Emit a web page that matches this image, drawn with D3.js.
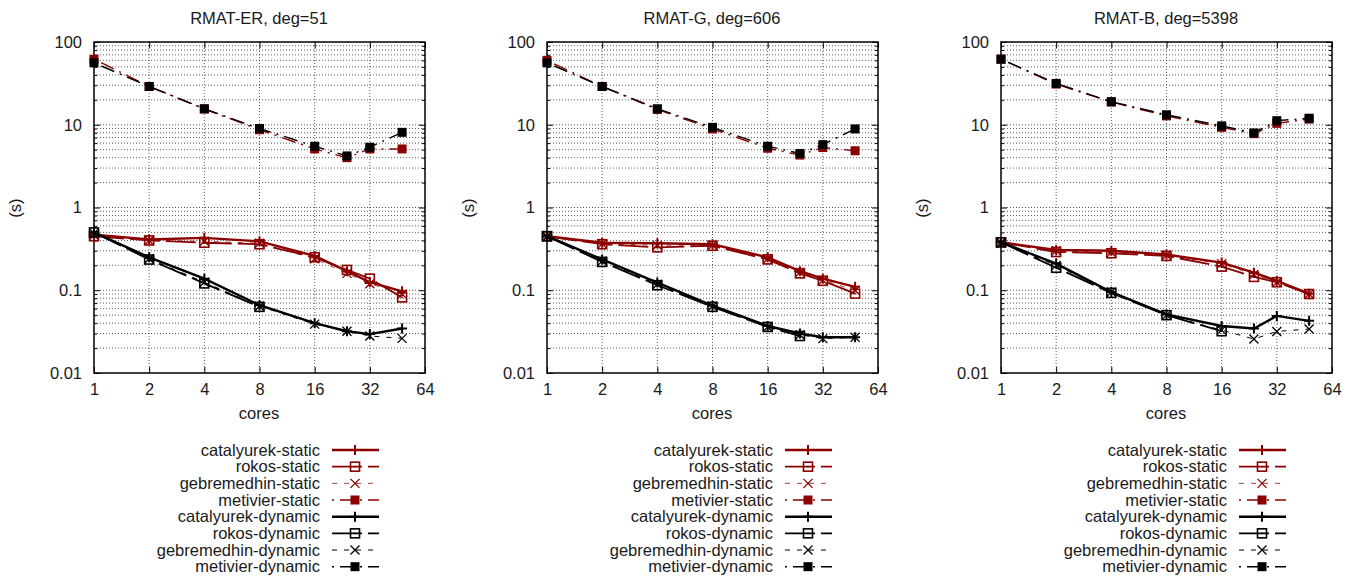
<!DOCTYPE html>
<html>
<head>
<meta charset="utf-8">
<title>Coloring time vs cores</title>
<script src="https://cdn.jsdelivr.net/npm/d3@7/dist/d3.min.js"></script>
<style>
  body { margin: 0; background: #fff; }
  svg text { font-family: "Liberation Sans", Arial, Helvetica, sans-serif; fill: #1a1a1a; }
</style>
</head>
<body>
<svg id="chart" width="1354" height="579"></svg>
<script>
// x values (cores)
var cores = [1, 2, 4, 8, 16, 24, 32, 48];
var xTicks = [1, 2, 4, 8, 16, 32, 64];
var yTicks = [0.01, 0.1, 1, 10, 100];

var seriesNames = ["catalyurek-static", "rokos-static", "gebremedhin-static", "metivier-static",
                   "catalyurek-dynamic", "rokos-dynamic", "gebremedhin-dynamic", "metivier-dynamic"];

var panelTitles = ["RMAT-ER, deg=51", "RMAT-G, deg=606", "RMAT-B, deg=5398"];

// RMAT-ER
var erCatalyurekStatic  = [0.47, 0.41, 0.43, 0.39, 0.26, 0.17, 0.125, 0.097];
var erRokosStatic       = [0.45, 0.40, 0.375, 0.36, 0.25, 0.176, 0.138, 0.082];
var erGebremedhinStatic = [0.46, 0.40, 0.39, 0.37, 0.24, 0.16, 0.12, 0.09];
var erMetivierStatic    = [62, 29, 15.5, 8.7, 5.1, 4.0, 5.1, 5.1];
var erCatalyurekDynamic = [0.50, 0.25, 0.138, 0.066, 0.040, 0.032, 0.0295, 0.0345];
var erRokosDynamic      = [0.50, 0.235, 0.121, 0.063, null, null, null, null];
var erGebremedhinDynamic= [0.49, 0.24, 0.125, 0.064, 0.039, 0.032, 0.028, 0.0262];
var erMetivierDynamic   = [56, 29, 15.6, 9.0, 5.5, 4.2, 5.35, 8.1];

// RMAT-G
var gCatalyurekStatic   = [0.45, 0.375, 0.37, 0.36, 0.25, 0.17, 0.138, 0.11];
var gRokosStatic        = [0.45, 0.36, 0.33, 0.345, 0.236, 0.16, 0.13, 0.091];
var gGebremedhinStatic  = [0.45, 0.365, 0.35, 0.35, 0.24, 0.165, 0.132, 0.10];
var gMetivierStatic     = [60, 29, 15.3, 8.9, 5.2, 4.3, 5.3, 4.85];
var gCatalyurekDynamic  = [0.45, 0.236, 0.124, 0.065, 0.037, 0.030, 0.027, 0.027];
var gRokosDynamic       = [0.45, 0.22, 0.115, 0.063, 0.036, 0.028, null, null];
var gGebremedhinDynamic = [0.44, 0.225, 0.118, 0.064, 0.036, 0.029, 0.026, 0.027];
var gMetivierDynamic    = [56, 29, 15.6, 9.3, 5.5, 4.5, 5.75, 8.9];

// RMAT-B
var bCatalyurekStatic   = [0.38, 0.306, 0.30, 0.27, 0.216, 0.163, 0.13, 0.091];
var bRokosStatic        = [0.38, 0.29, 0.28, 0.26, 0.193, 0.145, 0.125, 0.09];
var bGebremedhinStatic  = [0.38, 0.30, 0.285, 0.265, 0.21, 0.155, 0.125, 0.09];
var bMetivierStatic     = [62, 31, 18.8, 12.8, 9.3, 7.8, 10.4, 11.7];
var bCatalyurekDynamic  = [0.38, 0.21, 0.095, 0.051, 0.037, 0.0345, 0.049, 0.0427];
var bRokosDynamic       = [0.38, 0.187, 0.093, 0.050, 0.032, null, null, null];
var bGebremedhinDynamic = [0.37, 0.20, 0.095, 0.050, 0.033, 0.0257, 0.0318, 0.034];
var bMetivierDynamic    = [62, 31.6, 19, 13.2, 9.7, 7.96, 11.2, 12.0];

var panelData = [
    [erCatalyurekStatic, erRokosStatic, erGebremedhinStatic, erMetivierStatic,
     erCatalyurekDynamic, erRokosDynamic, erGebremedhinDynamic, erMetivierDynamic],
    [gCatalyurekStatic, gRokosStatic, gGebremedhinStatic, gMetivierStatic,
     gCatalyurekDynamic, gRokosDynamic, gGebremedhinDynamic, gMetivierDynamic],
    [bCatalyurekStatic, bRokosStatic, bGebremedhinStatic, bMetivierStatic,
     bCatalyurekDynamic, bRokosDynamic, bGebremedhinDynamic, bMetivierDynamic]
];

// line style per series index (algorithm = i % 4, red for static, black for dynamic)
var red = "#8b0000", black = "#000";
var styles = [
    { width: 2.4, dash: null,        marker: "plus" },
    { width: 1.8, dash: "30,6",      marker: "osq" },
    { width: 1.0, dash: "5,7",       marker: "cross" },
    { width: 1.4, dash: "2,6,14,6",  marker: "fsq" }
];
var fontSize = 16.5;

var svg = d3.select("#chart");
svg.append("rect").attr("width", 1354).attr("height", 579).attr("fill", "#fff");

var panelLefts = [94, 547, 1001],
    plotW = 331,
    plotTop = 42,
    plotBottom = 373;

var minorVals = [];
for (var e = -2; e < 2; e++) {
    for (var m = 2; m <= 9; m++) minorVals.push(m * Math.pow(10, e));
}

function drawMarker(g, kind, color, px, py) {
    if (kind === "plus") {
        g.append("path").attr("d", "M" + (px - 5) + "," + py + "H" + (px + 5) + "M" + px + "," + (py - 5) + "V" + (py + 5))
            .attr("stroke", color).attr("stroke-width", 2).attr("fill", "none");
    } else if (kind === "cross") {
        g.append("path").attr("d", "M" + (px - 4.5) + "," + (py - 4.5) + "L" + (px + 4.5) + "," + (py + 4.5) +
                                   "M" + (px - 4.5) + "," + (py + 4.5) + "L" + (px + 4.5) + "," + (py - 4.5))
            .attr("stroke", color).attr("stroke-width", 1.3).attr("fill", "none");
    } else if (kind === "osq") {
        g.append("rect").attr("x", px - 4.5).attr("y", py - 4.5).attr("width", 9).attr("height", 9)
            .attr("fill", "#fff").attr("fill-opacity", 0).attr("stroke", color).attr("stroke-width", 1.6);
        g.append("rect").attr("x", px - 0.8).attr("y", py - 0.8).attr("width", 1.6).attr("height", 1.6).attr("fill", color);
    } else {
        g.append("rect").attr("x", px - 4.5).attr("y", py - 4.5).attr("width", 9).attr("height", 9).attr("fill", color);
    }
}

panelLefts.forEach(function (left, p) {
    var x = d3.scaleLog().base(2).domain([1, 64]).range([left, left + plotW]);
    var y = d3.scaleLog().domain([0.01, 100]).range([plotBottom, plotTop]);
    var g = svg.append("g");

    // grid
    var grid = g.append("g").attr("stroke", "#333").attr("stroke-width", 0.8).attr("stroke-dasharray", "1,2");
    minorVals.concat([0.1, 1, 10]).forEach(function (v) {
        grid.append("line").attr("x1", left).attr("x2", left + plotW).attr("y1", y(v)).attr("y2", y(v));
    });
    xTicks.slice(1, -1).forEach(function (v) {
        grid.append("line").attr("x1", x(v)).attr("x2", x(v)).attr("y1", plotTop).attr("y2", plotBottom);
    });

    // axes (inward ticks)
    var axL = g.append("g").attr("transform", "translate(" + left + ",0)")
        .call(d3.axisLeft(y).tickValues(yTicks).tickFormat(d3.format("~g")).tickSize(-6).tickPadding(12));
    axL.selectAll("text").attr("font-size", fontSize);
    g.append("g").attr("transform", "translate(" + left + ",0)")
        .call(d3.axisLeft(y).tickValues(minorVals).tickFormat("").tickSize(-3));
    g.append("g").attr("transform", "translate(" + (left + plotW) + ",0)")
        .call(d3.axisRight(y).tickValues(yTicks).tickFormat("").tickSize(-6));
    g.append("g").attr("transform", "translate(" + (left + plotW) + ",0)")
        .call(d3.axisRight(y).tickValues(minorVals).tickFormat("").tickSize(-3));
    var axB = g.append("g").attr("transform", "translate(0," + plotBottom + ")")
        .call(d3.axisBottom(x).tickValues(xTicks).tickFormat(d3.format("d")).tickSize(-6).tickPadding(10));
    axB.selectAll("text").attr("font-size", fontSize);
    g.append("g").attr("transform", "translate(0," + plotTop + ")")
        .call(d3.axisTop(x).tickValues(xTicks).tickFormat("").tickSize(-6));
    g.selectAll(".domain").remove();
    g.selectAll(".tick line").attr("stroke", "#000");
    g.append("rect").attr("x", left).attr("y", plotTop).attr("width", plotW).attr("height", plotBottom - plotTop)
        .attr("fill", "none").attr("stroke", "#000").attr("stroke-width", 1.5);

    // labels
    g.append("text").attr("x", left + 165).attr("y", 24).attr("text-anchor", "middle").attr("font-size", fontSize)
        .text(panelTitles[p]);
    g.append("text").attr("x", left + 165).attr("y", 419).attr("text-anchor", "middle").attr("font-size", fontSize)
        .text("cores");
    g.append("text").attr("transform", "translate(" + (left - 73) + ",208) rotate(-90)")
        .attr("text-anchor", "middle").attr("font-size", fontSize).text("(s)");

    // series
    var line = d3.line()
        .defined(function (d) { return d[1] != null; })
        .x(function (d) { return x(d[0]); })
        .y(function (d) { return y(d[1]); });

    panelData[p].forEach(function (vals, i) {
        var st = styles[i % 4], color = i < 4 ? red : black;
        var pts = cores.map(function (c, k) { return [c, vals[k]]; });
        g.append("path").datum(pts).attr("d", line).attr("fill", "none")
            .attr("stroke", color).attr("stroke-width", st.width)
            .attr("stroke-dasharray", st.dash).attr("stroke-opacity", i === 2 ? 0.75 : 1);
        pts.filter(function (d) { return d[1] != null; }).forEach(function (d) {
            drawMarker(g, st.marker, color, x(d[0]), y(d[1]));
        });

        // legend row
        var ly = 450 + i * 16.67;
        g.append("text").attr("x", left + 226).attr("y", ly).attr("dy", "0.35em")
            .attr("text-anchor", "end").attr("font-size", fontSize).text(seriesNames[i]);
        g.append("line").attr("x1", left + 238).attr("x2", left + 285).attr("y1", ly).attr("y2", ly)
            .attr("stroke", color).attr("stroke-width", st.width).attr("stroke-dasharray", st.dash)
            .attr("stroke-opacity", i === 2 ? 0.75 : 1);
        drawMarker(g, st.marker, color, left + 261, ly);
    });
});
</script>
</body>
</html>
